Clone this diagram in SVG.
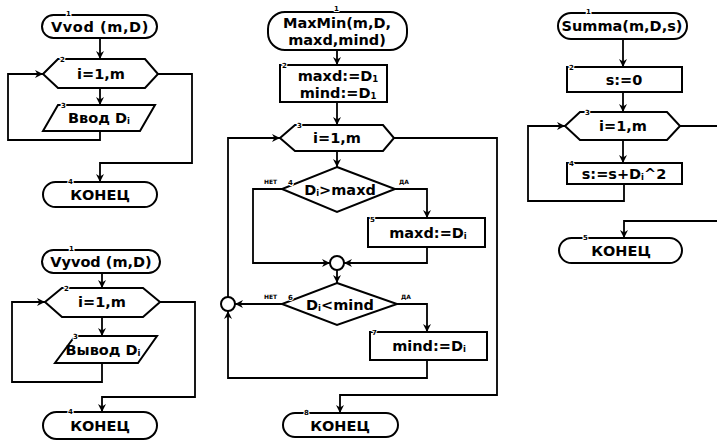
<svg xmlns="http://www.w3.org/2000/svg" width="717" height="442" viewBox="0 0 717 442">
<defs>
<marker id="arr" viewBox="0 0 10 10" refX="10" refY="5" markerWidth="8" markerHeight="8" markerUnits="userSpaceOnUse" orient="auto">
<path d="M0,0 L10,5 L0,10 L3,5 z" fill="#000"/>
</marker>
<style>
.s{fill:#fff;stroke:#000;stroke-width:2}
.c{fill:none;stroke:#000;stroke-width:1.8}
.a{marker-end:url(#arr)}
.t{font-family:"DejaVu Sans",Verdana,sans-serif;font-weight:bold;font-size:14.5px;text-anchor:middle;fill:#000}
.w{letter-spacing:0.6px}
.n{font-family:"DejaVu Sans",sans-serif;font-weight:bold;font-size:7px;fill:#000;stroke:#fff;stroke-width:2;paint-order:stroke}
.y{font-family:"DejaVu Sans",sans-serif;font-weight:bold;font-size:6px;fill:#000}
.sub{font-size:8.5px}
</style>
</defs>
<rect width="717" height="442" fill="#fff"/>

<g id="connectors">
<path class="c a" d="M100,38 V59"/>
<path class="c a" d="M100,88 V105"/>
<path class="c a" d="M100,131 V140 H8 V74 H43"/>
<path class="c a" d="M158,74 H192 V163 H100 V182"/>
<path class="c a" d="M102,273 V288"/>
<path class="c a" d="M102,317 V336"/>
<path class="c a" d="M102,363 V382 H12 V302 H45"/>
<path class="c a" d="M160,302 H195 V397 H102 V412"/>
<path class="c a" d="M337,50 V65"/>
<path class="c a" d="M337,102 V125"/>
<path class="c a" d="M337,151 V167"/>
<path class="c a" d="M282,189 H253 V263 H330"/>
<path class="c a" d="M395,189 H427 V218"/>
<path class="c a" d="M427,247 V263 H344"/>
<path class="c a" d="M337,270 V283"/>
<path class="c a" d="M282,304 H235"/>
<path class="c a" d="M228,297 V138 H280"/>
<path class="c a" d="M397,304 H427 V332"/>
<path class="c a" d="M427,360 V378 H228 V311"/>
<path class="c a" d="M394,138 H497 V395 H340 V413"/>
<path class="c a" d="M623,39 V67"/>
<path class="c a" d="M623,92 V112"/>
<path class="c a" d="M623,140 V163"/>
<path class="c a" d="M624,184 V201 H528 V126 H565"/>
<path class="c" d="M680,126 H717"/>
<path class="c a" d="M717,221 H624 V238"/>
</g>

<g id="vvod-start">
<rect class="s" x="42" y="15" width="115" height="23" rx="11.5"/>
<text class="t w" x="100" y="32">Vvod (m,D)</text>
<text class="n" x="66" y="16">1</text>
</g>
<g id="vvod-loop">
<polygon class="s" points="43,74 58,59 145,59 158,74 145,88 58,88"/>
<text class="t" x="101" y="79">i=1,m</text>
<text class="n" x="60" y="62">2</text>
</g>
<g id="vvod-input">
<polygon class="s" points="58,105 155,105 140,131 43,131"/>
<text class="t" x="99" y="123">Ввод D<tspan class="sub" dy="1">i</tspan></text>
<text class="n" x="61" y="108">3</text>
</g>
<g id="vvod-end">
<rect class="s" x="43" y="182" width="114" height="25" rx="12.5"/>
<text class="t" x="100" y="200">КОНЕЦ</text>
<text class="n" x="68" y="184">4</text>
</g>

<g id="vyvod-start">
<rect class="s" x="42" y="250" width="118" height="23" rx="11.5"/>
<text class="t" x="101" y="267">Vyvod (m,D)</text>
<text class="n" x="69" y="251">1</text>
</g>
<g id="vyvod-loop">
<polygon class="s" points="45,302 62,288 143,288 160,302 143,317 62,317"/>
<text class="t" x="102" y="307">i=1,m</text>
<text class="n" x="64" y="291">2</text>
</g>
<g id="vyvod-output">
<polygon class="s" points="75,336 157,336 138,363 55,363"/>
<text class="t" x="103" y="355">Вывод D<tspan class="sub" dy="1">i</tspan></text>
<text class="n" x="73" y="339">3</text>
</g>
<g id="vyvod-end">
<rect class="s" x="43" y="412" width="114" height="27" rx="13.5"/>
<text class="t" x="100" y="431">КОНЕЦ</text>
<text class="n" x="68" y="414">4</text>
</g>

<g id="maxmin-start">
<rect class="s" x="268" y="12" width="139" height="38" rx="17"/>
<text class="t" x="337" y="28">MaxMin(m,D,</text>
<text class="t" x="337" y="45">maxd,mind)</text>
<text class="n" x="334" y="11">1</text>
</g>
<g id="maxmin-init">
<rect class="s" x="280" y="65" width="107" height="37"/>
<text class="t" x="338" y="81">maxd:=D<tspan class="sub" dy="1">1</tspan></text>
<text class="t" x="338" y="98">mind:=D<tspan class="sub" dy="1">1</tspan></text>
<text class="n" x="282" y="68">2</text>
</g>
<g id="maxmin-loop">
<polygon class="s" points="280,138 295,125 383,125 394,138 383,151 295,151"/>
<text class="t" x="337" y="143">i=1,m</text>
<text class="n" x="297" y="128">3</text>
</g>
<g id="maxmin-if1">
<polygon class="s" points="337,167 395,189 337,212 282,189"/>
<text class="t" x="340" y="195">D<tspan class="sub" dy="1">i</tspan><tspan dy="-1">&gt;maxd</tspan></text>
<text class="n" x="288" y="185">4</text>
<text class="y" x="264" y="184">НЕТ</text>
<text class="y" x="399" y="184">ДА</text>
</g>
<g id="maxmin-set-max">
<rect class="s" x="368" y="218" width="117" height="29"/>
<text class="t" x="428" y="238">maxd:=D<tspan class="sub" dy="1">i</tspan></text>
<text class="n" x="370" y="222">5</text>
</g>
<g id="maxmin-join1">
<circle class="s" cx="337" cy="263" r="7"/>
</g>
<g id="maxmin-if2">
<polygon class="s" points="337,283 397,304 337,325 282,304"/>
<text class="t" x="340" y="310">D<tspan class="sub" dy="1">i</tspan><tspan dy="-1">&lt;mind</tspan></text>
<text class="n" x="288" y="300">6</text>
<text class="y" x="264" y="299">НЕТ</text>
<text class="y" x="401" y="299">ДА</text>
</g>
<g id="maxmin-join2">
<circle class="s" cx="228" cy="304" r="7"/>
</g>
<g id="maxmin-set-min">
<rect class="s" x="370" y="332" width="117" height="28"/>
<text class="t" x="429" y="351">mind:=D<tspan class="sub" dy="1">i</tspan></text>
<text class="n" x="372" y="335">7</text>
</g>
<g id="maxmin-end">
<rect class="s" x="283" y="413" width="115" height="24" rx="12"/>
<text class="t" x="340" y="431">КОНЕЦ</text>
<text class="n" x="304" y="415">8</text>
</g>

<g id="summa-start">
<rect class="s" x="558" y="13" width="129" height="26" rx="13"/>
<text class="t" x="622" y="31">Summa(m,D,s)</text>
<text class="n" x="586" y="14">1</text>
</g>
<g id="summa-init">
<rect class="s" x="567" y="67" width="115" height="25"/>
<text class="t" x="624" y="85">s:=0</text>
<text class="n" x="569" y="70">2</text>
</g>
<g id="summa-loop">
<polygon class="s" points="565,126 580,112 667,112 680,126 667,140 580,140"/>
<text class="t" x="623" y="131">i=1,m</text>
<text class="n" x="585" y="115">3</text>
</g>
<g id="summa-body">
<rect class="s" x="567" y="163" width="115" height="21"/>
<text class="t" x="624" y="179">s:=s+D<tspan class="sub" dy="1">i</tspan><tspan dy="-1">^2</tspan></text>
<text class="n" x="569" y="166">4</text>
</g>
<g id="summa-end">
<rect class="s" x="559" y="238" width="123" height="25" rx="12.5"/>
<text class="t" x="621" y="256">КОНЕЦ</text>
<text class="n" x="583" y="240">5</text>
</g>
</svg>
